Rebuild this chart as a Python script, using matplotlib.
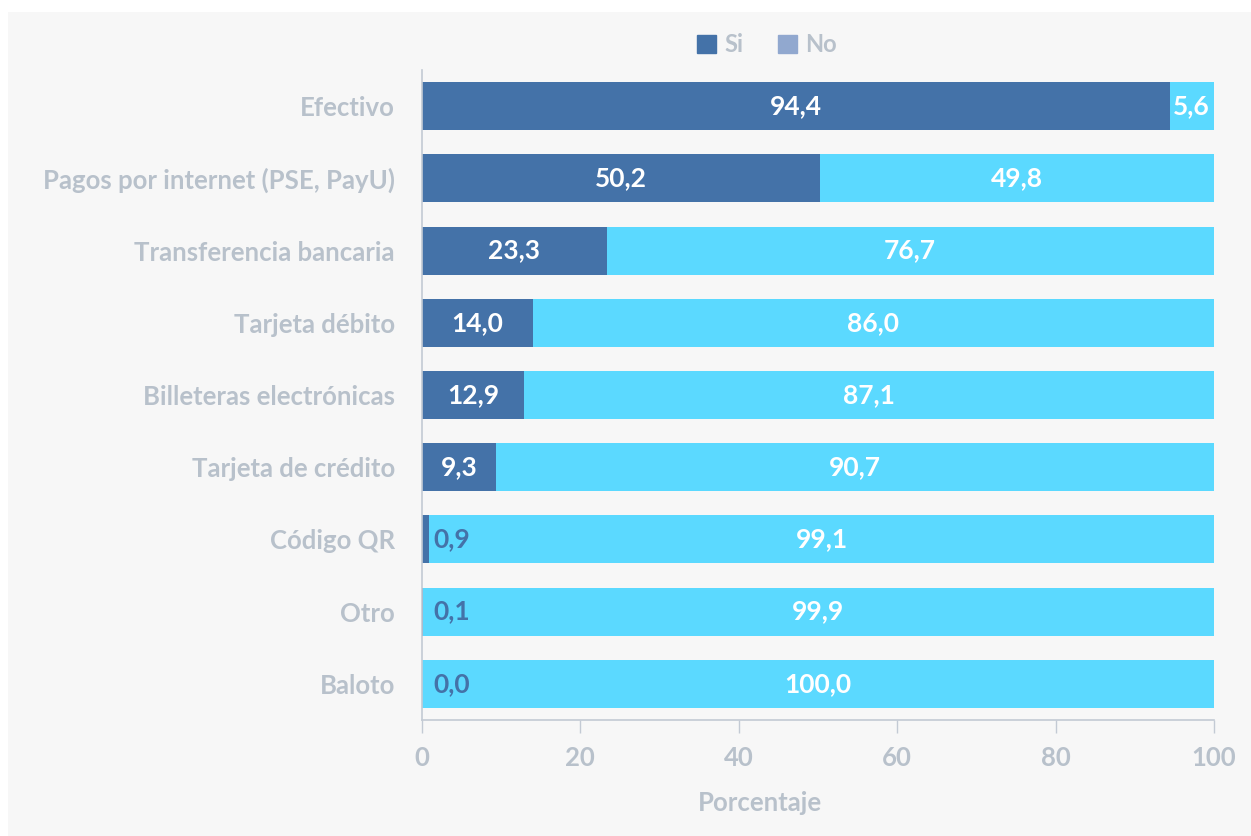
import matplotlib.pyplot as plt
from matplotlib.patches import Rectangle

# Data
categorias = ['Efectivo', 'Pagos por internet (PSE, PayU)', 'Transferencia bancaria',
              'Tarjeta débito', 'Billeteras electrónicas', 'Tarjeta de crédito',
              'Código QR', 'Otro', 'Baloto']
si = [94.4, 50.2, 23.3, 14.0, 12.9, 9.3, 0.9, 0.1, 0.0]
no = [5.6, 49.8, 76.7, 86.0, 87.1, 90.7, 99.1, 99.9, 100.0]
xticks = [0, 20, 40, 60, 80, 100]

color_si = '#4472a8'
color_no = '#5bd9ff'
color_no_legend = '#91a8cf'
gris = '#b8c1cb'
fondo = '#f7f7f7'

plt.rcParams['font.family'] = ['Lato', 'DejaVu Sans']
plt.rcParams['font.weight'] = 'bold'

fig = plt.figure(figsize=(12.51, 8.36), dpi=100)
fig.patch.set_facecolor('white')
fig.patches.append(Rectangle((8 / 1251, 0), 1, 1 - 12 / 836, transform=fig.transFigure,
                             facecolor=fondo, edgecolor='none', zorder=-10))

ax = fig.add_axes([0.3373, 0.1388, 0.6331, 0.7775])
ax.set_facecolor(fondo)

y = list(range(len(categorias)))
ax.barh(y, si, height=0.665, color=color_si, label='Si')
ax.barh(y, no, left=si, height=0.665, color=color_no)

for i in y:
    if si[i] >= 5:
        ax.text(si[i] / 2, i, f'{si[i]:.1f}'.replace('.', ','), ha='center', va='center',
                color='white', fontsize=19, fontweight='bold')
    else:
        ax.text(1.5, i, f'{si[i]:.1f}'.replace('.', ','), ha='left', va='center',
                color=color_si, fontsize=19, fontweight='bold')
    ax.text(si[i] + no[i] / 2, i, f'{no[i]:.1f}'.replace('.', ','), ha='center', va='center',
            color='white', fontsize=19, fontweight='bold')

ax.set_ylim(len(categorias) - 0.5, -0.5)
ax.set_xlim(0, 100)
ax.set_yticks(y)
ax.set_yticklabels(categorias)
ax.set_xticks(xticks)
ax.tick_params(axis='y', length=0, pad=19.5, labelsize=18.5, labelcolor=gris)
ax.tick_params(axis='x', length=9, width=1, color='#c3cad4', pad=10,
               labelsize=18.5, labelcolor=gris)
for s in ['top', 'right']:
    ax.spines[s].set_visible(False)
for s in ['left', 'bottom']:
    ax.spines[s].set_color('#c3cad4')
    ax.spines[s].set_linewidth(1.2)
ax.set_xlabel('Porcentaje', fontsize=18.5, color=gris, fontweight='bold', va='center')
ax.xaxis.set_label_coords(0.427, -0.128)

# Legend
h_si = Rectangle((0, 0), 1, 1, color=color_si)
h_no = Rectangle((0, 0), 1, 1, color=color_no_legend)
leg = fig.legend([h_si, h_no], ['Si', 'No'], loc='center', bbox_to_anchor=(767 / 1251, 1 - 45 / 836),
                 ncol=2, frameon=False, handlelength=0.8, handleheight=0.8,
                 handletextpad=0.35, columnspacing=1.5, fontsize=17)
for t in leg.get_texts():
    t.set_color(gris)
    t.set_fontweight('bold')

fig.savefig('out.png', dpi=100, facecolor=fig.get_facecolor())
